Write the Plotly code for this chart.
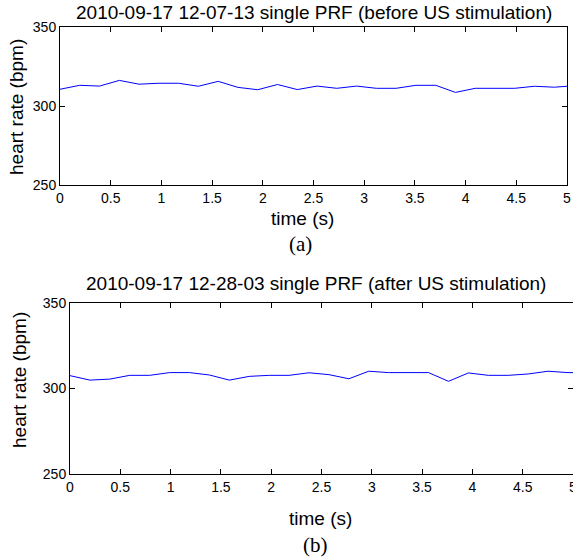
import plotly.graph_objects as go

W, H = 573, 557

# ---- data ----
time_before = [0.0, 0.195, 0.39, 0.585, 0.78, 0.975, 1.17, 1.365, 1.56, 1.755,
               1.95, 2.145, 2.34, 2.535, 2.73, 2.925, 3.12, 3.315, 3.51, 3.705,
               3.9, 4.095, 4.29, 4.485, 4.68, 4.875, 5.07]
hr_before = [310.6, 313.1, 312.6, 316.2, 313.8, 314.4, 314.4, 312.5, 315.6, 311.8,
             310.3, 313.6, 310.4, 312.6, 311.2, 312.6, 311.2, 311.2, 313.1, 313.1,
             308.6, 311.2, 311.2, 311.2, 312.5, 311.9, 312.8]

time_after = [0.0, 0.198, 0.396, 0.594, 0.792, 0.99, 1.188, 1.386, 1.584, 1.782,
              1.98, 2.178, 2.376, 2.574, 2.772, 2.97, 3.168, 3.366, 3.564, 3.762,
              3.96, 4.158, 4.356, 4.554, 4.752, 4.95, 5.148]
hr_after = [307.5, 304.9, 305.5, 307.7, 307.7, 309.3, 309.3, 307.9, 304.9, 307.1,
            307.7, 307.7, 309.2, 308.1, 305.7, 310.1, 309.3, 309.3, 309.3, 304.2,
            309.1, 307.7, 307.7, 308.5, 310.1, 309.3, 309.3]

title_a = "2010-09-17 12-07-13 single PRF (before US stimulation)"
title_b = "2010-09-17 12-28-03 single PRF (after US stimulation)"
xlabel = "time (s)"
ylabel = "heart rate (bpm)"
x_ticks = [0, 0.5, 1, 1.5, 2, 2.5, 3, 3.5, 4, 4.5, 5]
y_ticks = [250, 300, 350]


def px(x):
    return x / W


def py(y):
    return 1 - y / H


fig = go.Figure()
fig.add_trace(go.Scatter(x=time_before, y=hr_before, mode="lines",
                         line=dict(color="#0000ff", width=1), xaxis="x", yaxis="y",
                         showlegend=False))
fig.add_trace(go.Scatter(x=time_after, y=hr_after, mode="lines",
                         line=dict(color="#0000ff", width=1), xaxis="x2", yaxis="y2",
                         showlegend=False))

axis_common = dict(showline=True, linecolor="#000000", linewidth=1, mirror="ticks",
                   ticks="inside", ticklen=5, tickcolor="#000000", tickwidth=1,
                   showgrid=False, zeroline=False, automargin=False,
                   ticklabeloverflow="allow",
                   tickfont=dict(family="Liberation Sans, Arial, sans-serif", size=14,
                                 color="#000000"))

fig.update_layout(
    template="none",
    width=W, height=H,
    margin=dict(l=0, r=0, t=0, b=0, pad=0),
    paper_bgcolor="white", plot_bgcolor="white",
    xaxis=dict(domain=[px(60), px(567)], range=[0, 5], tickvals=x_ticks,
               anchor="y", **axis_common),
    yaxis=dict(domain=[py(185), py(27)], range=[250, 350], tickvals=y_ticks,
               anchor="x", **axis_common),
    xaxis2=dict(domain=[px(70), 1.0], range=[0, 5], tickvals=x_ticks,
                anchor="y2", **axis_common),
    yaxis2=dict(domain=[py(474), py(303)], range=[250, 350], tickvals=y_ticks,
                anchor="x2", **axis_common),
)

font_sans = dict(family="Liberation Sans, Arial, sans-serif", size=19, color="#000000")
font_serif = dict(family="Liberation Serif, Times New Roman, serif", size=21, color="#000000")

ann = [
    (title_a, 314, 12, font_sans, 0),
    (xlabel, 302, 219, font_sans, 0),
    ("(a)", 300, 244, font_serif, 0),
    (ylabel, 16, 107, font_sans, -90),
    (title_b, 316, 283, font_sans, 0),
    (xlabel, 320, 518, font_sans, 0),
    ("(b)", 315, 545, font_serif, 0),
    (ylabel, 19, 380, font_sans, -90),
]
for text, x, y, f, ang in ann:
    fig.add_annotation(text=text, x=px(x), y=py(y), xref="paper", yref="paper",
                       xanchor="center", yanchor="middle", showarrow=False,
                       font=f, textangle=ang)

fig.write_html("out.html",
               config={"displayModeBar": False},
               post_script="document.body.style.margin='0';document.body.style.overflow='hidden';")
